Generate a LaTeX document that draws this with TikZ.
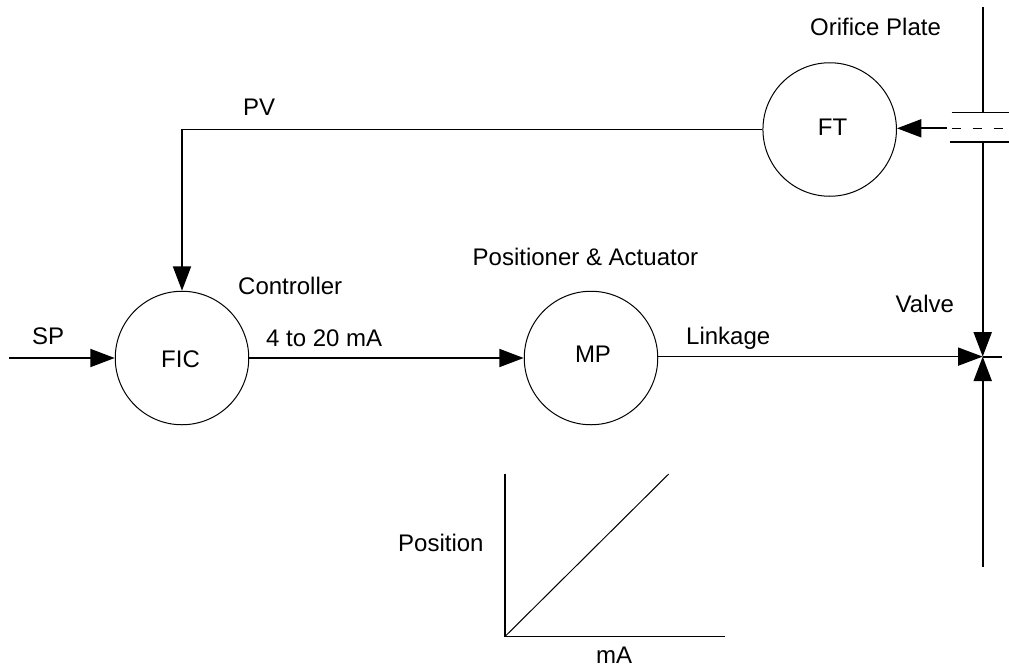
\documentclass[tikz,border=0pt]{standalone}
\usepackage{fontspec}
\setmainfont{Liberation Sans}
\usetikzlibrary{arrows.meta}
\tikzset{
 x=1pt,y=-1pt,
 inst/.style={draw,circle,minimum size=133.5pt,inner sep=0pt,line width=1pt},
 lab/.style={inner sep=0pt,font=\fontsize{24}{28}\selectfont},
 llab/.style={lab,anchor=west},
 wire/.style={line width=1pt},
 mid/.style={line width=1.3pt},
 heavy/.style={line width=2pt},
 flow/.style={-{Triangle[length=24.5pt,width=18pt]}},
}
\begin{document}
\begin{tikzpicture}
\useasboundingbox (0,0) rectangle (1009,667);
\node[inst] (fic) at (182,358) {};
\node[inst] (mp) at (591,358) {};
\node[inst] (ft) at (829.7,129.5) {};
\node[lab] (tfic) at (180.5,359) {FIC};
\node[lab] (tmp) at (593,354) {MP};
\node[lab] (tft) at (832.5,127) {FT};
% free ends
\coordinate (sp) at (9,358);
\coordinate (valve) at (982.7,356.6);
\coordinate (pipetop) at (982.7,7);
\coordinate (platetopl) at (951.5,112.3);
\coordinate (platetopr) at (1009,112.3);
\coordinate (platebotl) at (950,141.7);
\coordinate (platebotr) at (1009,141.7);
\coordinate (pipeup) at (982.7,112.3);
\coordinate (pipedown) at (982.7,141.7);
\coordinate (pipebot) at (982.7,566.7);
\coordinate (tap) at (946.7,128.3);
\coordinate (tapend) at (1009,128.3);
\coordinate (tapstart) at (951.5,128.3);
\coordinate (valveout) at (1001.7,356.6);
\coordinate (corner) at (182,129.7);
\coordinate (o) at (505,636.5);
\coordinate (ytop) at (505,474);
\coordinate (xend) at (725,636.5);
\coordinate (diag) at (668.7,474);
% connectors
\draw[mid] (ft.west |- corner) -- ([xshift=-1pt]corner);
\draw[heavy,flow] (corner) -- (fic.north);
\draw[heavy,flow] (sp) -- (fic.west);
\draw[heavy,flow] (fic.east) -- (mp.west);
\draw[mid,flow] (mp.east |- valve) -- (valve);
\draw[heavy,flow] (tap) -- (ft.east |- tap);
% pipe
\draw[heavy] (pipetop) -- (pipeup);
\draw[wire] (platetopl) -- (platetopr);
\draw[heavy] (platebotl) -- (platebotr);
\draw[wire,dash pattern=on 9pt off 12pt] (tapstart) -- (tapend);
\draw[heavy,flow] (pipedown) -- (valve);
\draw[heavy,flow] (pipebot) -- (valve);
\draw[heavy] (valve) -- (valveout);
% graph
\draw[heavy] (ytop) -- ([yshift=-.7pt]o);
\draw[mid] (o) -- (xend);
\draw[wire] (o) -- (diag);
% labels
\node[llab] (l1) at (810,26.5) {Orifice Plate};
\node[llab] (l2) at (243,107) {PV};
\node[llab] (l3) at (238,286) {Controller};
\node[llab] (l4) at (472.5,257) {Positioner \& Actuator};
\node[llab] (l5) at (895.5,304) {Valve};
\node[llab] (l6) at (32,336) {SP};
\node[llab] (l7) at (266,338.5) {4 to 20 mA};
\node[llab] (l8) at (686,338) {Linkage};
\node[llab] (l9) at (398,543) {Position};
\node[llab] (l10) at (596,655) {mA};
\end{tikzpicture}
\end{document}
